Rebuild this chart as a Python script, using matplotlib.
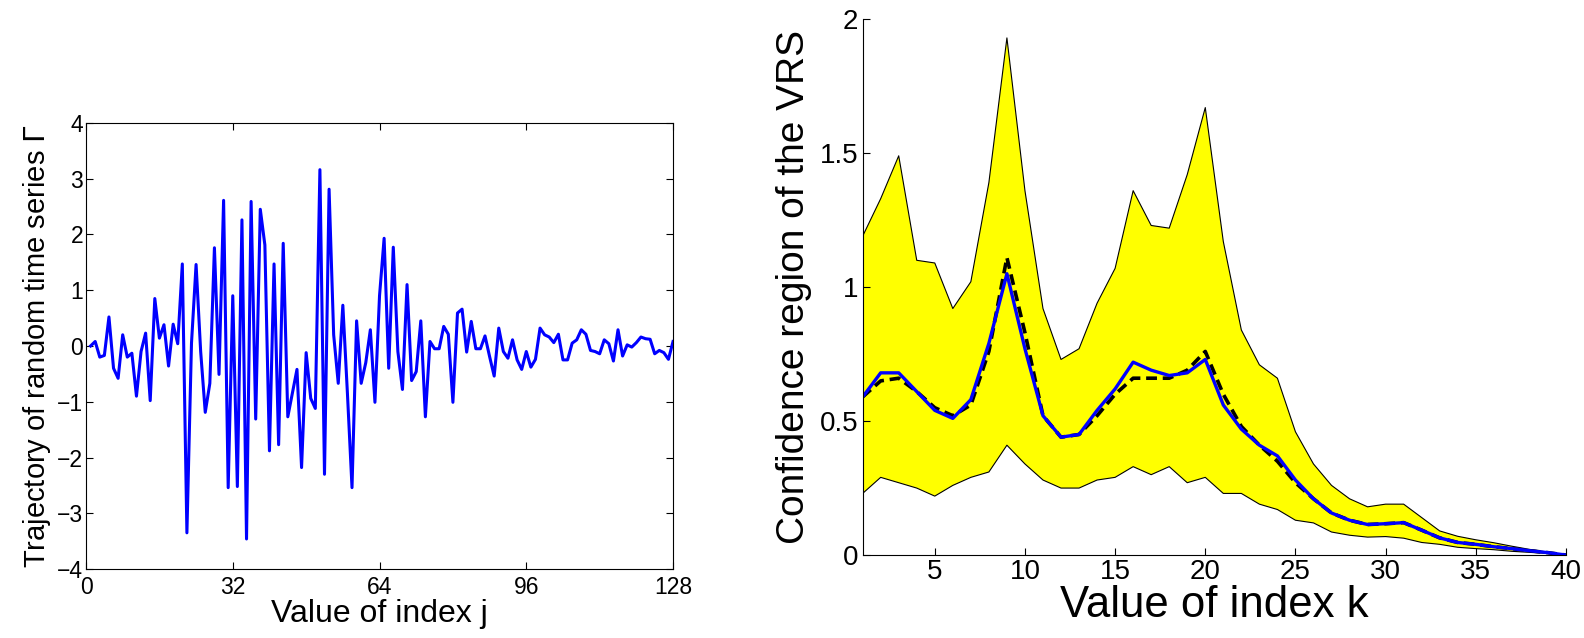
import numpy as np
import matplotlib.pyplot as plt

plt.rcParams['font.family'] = ['Liberation Sans', 'DejaVu Sans']

# left panel: trajectory of the random time series, j = 1..128
j_idx = np.arange(1, 129)
gamma = [0.00, 0.08, -0.20, -0.17, 0.52, -0.40, -0.58, 0.20, -0.20, -0.13,
         -0.90, -0.10, 0.23, -0.98, 0.85, 0.14, 0.38, -0.36, 0.39, 0.04,
         1.47, -3.35, 0.05, 1.46, -0.10, -1.19, -0.67, 1.76, -0.51, 2.61,
         -2.54, 0.90, -2.52, 2.26, -3.46, 2.59, -1.31, 2.45, 1.81, -1.88,
         1.47, -1.77, 1.84, -1.27, -0.85, -0.42, -2.18, -0.12, -0.94, -1.12,
         3.16, -2.30, 2.81, 0.20, -0.67, 0.73, -0.85, -2.54, 0.45, -0.67,
         -0.30, 0.29, -1.01, 0.90, 1.93, -0.40, 1.77, -0.10, -0.78, 1.10,
         -0.62, -0.46, 0.45, -1.27, 0.08, -0.05, -0.05, 0.35, 0.21, -1.01,
         0.59, 0.66, -0.11, 0.44, -0.05, -0.05, 0.18, -0.19, -0.54, 0.32,
         -0.10, -0.22, 0.11, -0.25, -0.42, -0.10, -0.38, -0.24, 0.32, 0.20,
         0.16, 0.06, 0.21, -0.25, -0.25, 0.05, 0.11, 0.29, 0.21, -0.08,
         -0.10, -0.14, 0.11, 0.04, -0.27, 0.29, -0.18, 0.02, -0.02, 0.06,
         0.16, 0.13, 0.12, -0.14, -0.08, -0.12, -0.24, 0.08]

# right panel: confidence region of the VRS, k = 1..40
k_idx = np.arange(1, 41)
upper = [1.19, 1.33, 1.49, 1.10, 1.09, 0.92, 1.02, 1.39, 1.93, 1.36,
         0.92, 0.73, 0.77, 0.94, 1.07, 1.36, 1.23, 1.22, 1.42, 1.67,
         1.17, 0.84, 0.71, 0.66, 0.46, 0.34, 0.26, 0.21, 0.18, 0.19,
         0.19, 0.14, 0.09, 0.07, 0.057, 0.046, 0.033, 0.021, 0.011, 0.0]
lower = [0.23, 0.29, 0.27, 0.25, 0.22, 0.26, 0.29, 0.31, 0.41, 0.34,
         0.28, 0.25, 0.25, 0.28, 0.29, 0.33, 0.30, 0.33, 0.27, 0.29,
         0.23, 0.23, 0.19, 0.17, 0.13, 0.12, 0.086, 0.074, 0.067, 0.069,
         0.063, 0.047, 0.040, 0.029, 0.024, 0.020, 0.014, 0.010, 0.006, 0.0]
vrs_est = [0.59, 0.68, 0.68, 0.61, 0.54, 0.51, 0.58, 0.79, 1.05, 0.77,
           0.52, 0.44, 0.45, 0.54, 0.62, 0.72, 0.69, 0.67, 0.68, 0.73,
           0.56, 0.47, 0.41, 0.37, 0.28, 0.21, 0.157, 0.13, 0.114, 0.117,
           0.121, 0.093, 0.064, 0.047, 0.040, 0.031, 0.024, 0.016, 0.009, 0.0]
vrs_true = [0.59, 0.65, 0.66, 0.61, 0.55, 0.52, 0.56, 0.76, 1.11, 0.83,
            0.52, 0.44, 0.45, 0.52, 0.60, 0.66, 0.66, 0.66, 0.69, 0.76,
            0.60, 0.48, 0.41, 0.35, 0.27, 0.21, 0.157, 0.13, 0.114, 0.117,
            0.121, 0.093, 0.064, 0.047, 0.040, 0.031, 0.024, 0.016, 0.009, 0.0]

fig = plt.figure(figsize=(15.84, 6.38), dpi=100)

################################################
# left panel
ax1 = fig.add_axes([0.0543, 0.108, 0.3706, 0.6995])
ax1.plot(j_idx, gamma, color='blue', lw=2.2)
ax1.set_xlim(0, 128)
ax1.set_ylim(-4, 4)
ax1.set_xticks([0, 32, 64, 96, 128])
ax1.set_yticks(range(-4, 5))
ax1.tick_params(direction='in', top=True, right=True, labelsize=16.5, length=5)
ax1.tick_params(axis='x', pad=5)
ax1.tick_params(axis='y', pad=2)
ax1.set_xlabel('Value of index j', fontsize=23, labelpad=0)
ax1.set_ylabel('Trajectory of random time series $\\Gamma$', fontsize=21, labelpad=3)

################################################
# right panel
ax2 = fig.add_axes([0.5446, 0.130, 0.444, 0.840])
ax2.fill_between(k_idx, lower, upper, facecolor='yellow', edgecolor='none')
ax2.plot(k_idx, upper, color='black', lw=0.8)
ax2.plot(k_idx, lower, color='black', lw=0.8)
ax2.plot(k_idx, vrs_true, color='black', lw=2.6, ls=(0, (3, 1.6)))
ax2.plot(k_idx, vrs_est, color='blue', lw=2.4)
ax2.set_xlim(1, 40)
ax2.set_ylim(0, 2)
ax2.set_xticks(range(5, 41, 5))
ax2.set_yticks([0, 0.5, 1, 1.5, 2])
ax2.set_yticklabels(['0', '0.5', '1', '1.5', '2'])
ax2.spines['top'].set_visible(False)
ax2.spines['right'].set_visible(False)
ax2.tick_params(direction='in', labelsize=20, length=5, pad=3)
ax2.set_xlabel('Value of index k', fontsize=31.5, labelpad=0)
ax2.set_ylabel('Confidence region of the VRS', fontsize=28, labelpad=6)

plt.savefig('out.png')
